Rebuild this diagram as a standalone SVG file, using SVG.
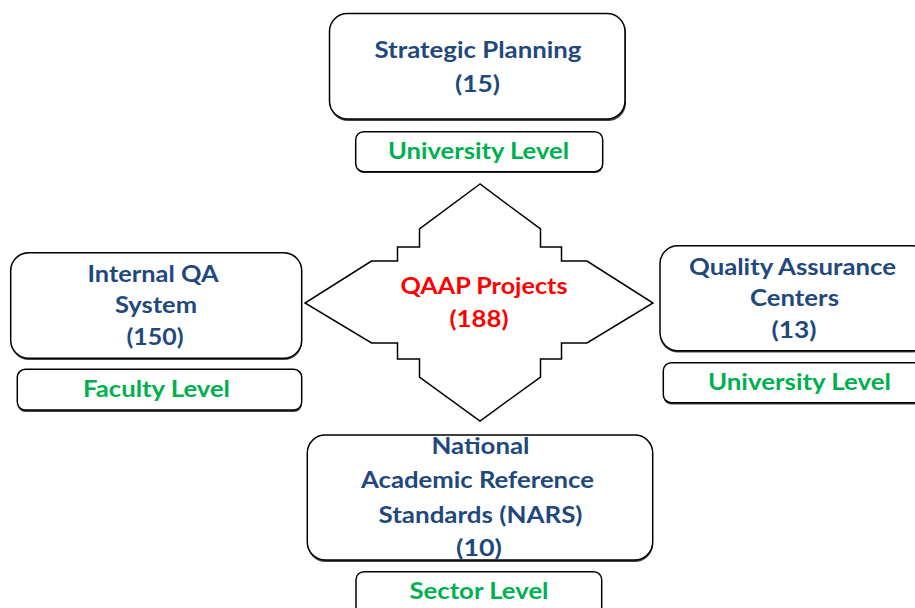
<svg xmlns="http://www.w3.org/2000/svg" width="915" height="608" viewBox="0 0 915 608">
<style>
.box{fill:#fff;stroke:#000;stroke-width:1.5}
.sh{fill:#444}
.t{font-family:Lato,"Liberation Sans",sans-serif;font-weight:bold;font-size:22px;text-anchor:middle}
.b{fill:#1F497D}
.g{fill:#00B050}
.r{fill:#FF0000}
</style>
<rect width="915" height="608" fill="#fff"/>
<g id="connectors"></g>
<g id="center">
<polygon points="480,184 419.5,229 419.5,247 397.5,247 397.5,261 371.5,261 305,303 371.5,343 397.5,343 397.5,359 419.5,359 419.5,377 480,421 540.5,377 540.5,359 561.5,359 561.5,343 587,343 653,303 587,261 561.5,261 561.5,247 540.5,247 540.5,229" fill="#fff" stroke="#000" stroke-width="1.5" stroke-linejoin="miter"/>
<text class="t r" x="484" y="294" textLength="167" lengthAdjust="spacingAndGlyphs">QAAP Projects</text>
<text class="t r" x="479" y="327" textLength="59" lengthAdjust="spacingAndGlyphs">(188)</text>
</g>
<g id="strategic">
<rect class="sh" x="330" y="15" width="296" height="106" rx="18"/>
<rect class="box" x="329.5" y="13.5" width="295.5" height="105.5" rx="18"/>
<text class="t b" x="478" y="58" textLength="207" lengthAdjust="spacingAndGlyphs">Strategic Planning</text>
<text class="t b" x="477.5" y="92" textLength="45" lengthAdjust="spacingAndGlyphs">(15)</text>
</g>
<g id="strategic-level">
<rect class="sh" x="356" y="133" width="247" height="40" rx="8"/>
<rect class="box" x="355.7" y="131.7" width="247" height="40" rx="8"/>
<text class="t g" x="478.5" y="159" textLength="181" lengthAdjust="spacingAndGlyphs">University Level</text>
</g>
<g id="internal">
<rect class="sh" x="11" y="254" width="291" height="106" rx="18"/>
<rect class="box" x="10.7" y="252.7" width="291" height="105.6" rx="18"/>
<text class="t b" x="153" y="282" textLength="131" lengthAdjust="spacingAndGlyphs">Internal QA</text>
<text class="t b" x="156" y="313" textLength="82" lengthAdjust="spacingAndGlyphs">System</text>
<text class="t b" x="155" y="345" textLength="57" lengthAdjust="spacingAndGlyphs">(150)</text>
</g>
<g id="internal-level">
<rect class="sh" x="17.5" y="371" width="284.5" height="41" rx="8"/>
<rect class="box" x="17.3" y="369.3" width="284.4" height="40.7" rx="8"/>
<text class="t g" x="156.5" y="397" textLength="147" lengthAdjust="spacingAndGlyphs">Faculty Level</text>
</g>
<g id="qac">
<rect class="sh" x="660" y="247.5" width="270" height="105" rx="18"/>
<rect class="box" x="660" y="245.7" width="270" height="105" rx="18"/>
<text class="t b" x="792.5" y="274.5" textLength="207" lengthAdjust="spacingAndGlyphs">Quality Assurance</text>
<text class="t b" x="794.5" y="306" textLength="89" lengthAdjust="spacingAndGlyphs">Centers</text>
<text class="t b" x="794" y="338" textLength="45" lengthAdjust="spacingAndGlyphs">(13)</text>
</g>
<g id="qac-level">
<rect class="sh" x="663.5" y="364.5" width="270" height="40" rx="8"/>
<rect class="box" x="663.3" y="362.7" width="270" height="40" rx="8"/>
<text class="t g" x="799.5" y="389.5" textLength="183" lengthAdjust="spacingAndGlyphs">University Level</text>
</g>
<g id="nars">
<rect class="sh" x="307.5" y="437" width="345.5" height="125" rx="18"/>
<rect class="box" x="307.3" y="435" width="345.4" height="125" rx="18"/>
<text class="t b" x="480.5" y="453.5" textLength="98" lengthAdjust="spacingAndGlyphs">National</text>
<text class="t b" x="477.5" y="488" textLength="233" lengthAdjust="spacingAndGlyphs">Academic Reference</text>
<text class="t b" x="480.5" y="523" textLength="204" lengthAdjust="spacingAndGlyphs">Standards (NARS)</text>
<text class="t b" x="479" y="556" textLength="46" lengthAdjust="spacingAndGlyphs">(10)</text>
</g>
<g id="nars-level">
<rect class="box" x="356" y="571.7" width="245.7" height="50" rx="8"/>
<text class="t g" x="479" y="598.5" textLength="139" lengthAdjust="spacingAndGlyphs">Sector Level</text>
</g>
</svg>
